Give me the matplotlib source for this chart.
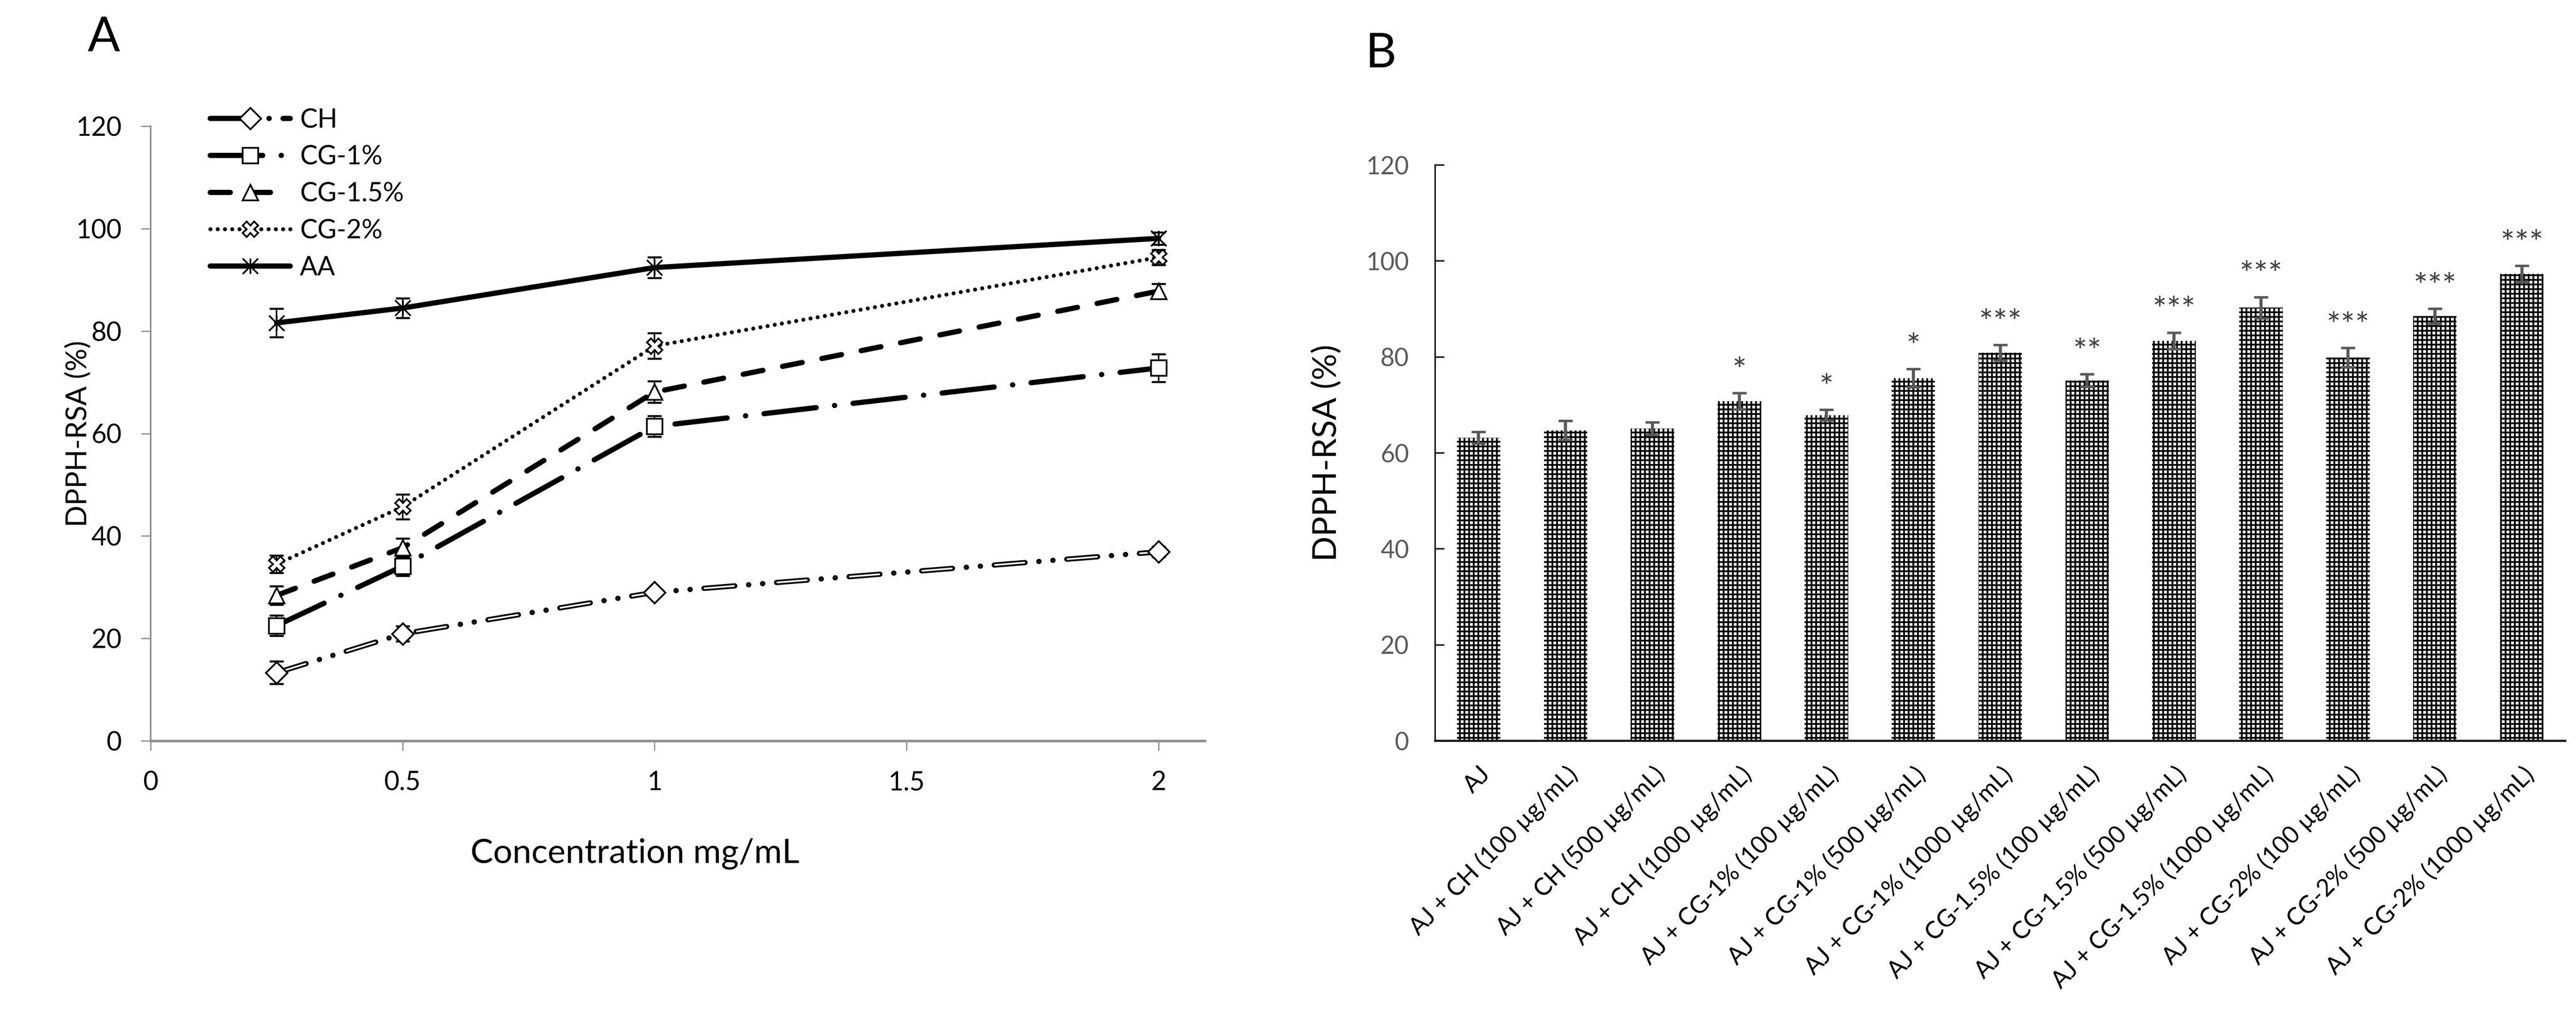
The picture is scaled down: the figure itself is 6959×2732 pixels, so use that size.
import matplotlib
matplotlib.use("Agg")
import matplotlib.pyplot as plt
from matplotlib.path import Path

plt.rcParams['font.family'] = ['Lato', 'DejaVu Sans']
plt.rcParams['lines.scale_dashes'] = False
plt.rcParams['hatch.linewidth'] = 1.15

# ---- panel A data ----
conc = [0.25, 0.5, 1, 2]
ch = [13.3, 20.9, 29.0, 36.9]
ch_err = [2.2, 1.5, 0.8, 1.0]
cg1 = [22.5, 34.1, 61.4, 72.8]
cg1_err = [2.0, 1.9, 2.0, 2.7]
cg15 = [28.4, 37.7, 68.1, 87.8]
cg15_err = [1.8, 1.8, 2.1, 1.4]
cg2 = [34.5, 45.7, 77.1, 94.4]
cg2_err = [1.7, 2.4, 2.5, 1.5]
aa = [81.6, 84.5, 92.4, 98.1]
aa_err = [2.8, 1.9, 2.0, 1.2]

# ---- panel B data ----
groups = ['AJ', 'AJ + CH (100 µg/mL)', 'AJ + CH (500 µg/mL)', 'AJ + CH (1000 µg/mL)',
          'AJ + CG-1% (100 µg/mL)', 'AJ + CG-1% (500 µg/mL)', 'AJ + CG-1% (1000 µg/mL)',
          'AJ + CG-1.5% (100 µg/mL)', 'AJ + CG-1.5% (500 µg/mL)', 'AJ + CG-1.5% (1000 µg/mL)',
          'AJ + CG-2% (100 µg/mL)', 'AJ + CG-2% (500 µg/mL)', 'AJ + CG-2% (1000 µg/mL)']
rsa = [63.2, 64.7, 65.1, 70.8, 67.9, 75.6, 80.9, 75.1, 83.4, 90.3, 79.9, 88.5, 97.3]
rsa_err = [1.2, 2.0, 1.3, 1.7, 1.1, 1.9, 1.6, 1.3, 1.7, 2.2, 2.0, 1.6, 1.7]
sig = ['', '', '', '*', '*', '*', '***', '**', '***', '***', '***', '***', '***']

W, H = 6959, 2732
fig = plt.figure(figsize=(W / 300, H / 300), dpi=300)

# asterisk-like marker used by Excel ("star")
star_path = Path([(-1, -1), (1, 1), (-1, 1), (1, -1), (0, -1), (0, 1)],
                 [Path.MOVETO, Path.LINETO, Path.MOVETO, Path.LINETO, Path.MOVETO, Path.LINETO])

# ================= panel A =================
axA = fig.add_axes([407 / W, 1 - 2002 / H, (3255 - 407) / W, (2002 - 341) / H])
gray = '#8c8c8c'
lw = 3.4
series = [
    ('CH', ch, ch_err, 'D', (20, 9, 0.1, 9, 0.1, 9)),
    ('CG-1%', cg1, cg1_err, 's', (34, 12, 0.1, 12)),
    ('CG-1.5%', cg15, cg15_err, '^', (13, 13)),
    ('CG-2%', cg2, cg2_err, 'X', (0.01, 4.7)),
    ('AA', aa, aa_err, star_path, None),
]
handles = []
for name, y, e, mk, dash in series:
    axA.errorbar(conc, y, yerr=e, fmt='none', ecolor='black', elinewidth=1.0,
                 capsize=4.5, capthick=1.3, zorder=2)
    kw = dict(color='black', lw=lw if name != 'CG-2%' else 2.6,
              solid_capstyle='round', dash_capstyle='round', zorder=3)
    if dash is not None:
        kw['dashes'] = dash
    ln, = axA.plot(conc, y, marker=mk, markersize=10, markerfacecolor='white',
                   markeredgecolor='black', markeredgewidth=1.1, label=name, **kw)
    if name == 'CH':
        # double-line look
        axA.plot(conc, y, color='white', lw=1.1, dashes=dash, dash_capstyle='butt', zorder=3.5)
        axA.plot(conc, y, ls='none', marker=mk, markersize=10, markerfacecolor='white',
                 markeredgecolor='black', markeredgewidth=1.1, zorder=4)
    handles.append(ln)

axA.set_xlim(0, 2.092)
axA.set_ylim(0, 120)
axA.set_xticks([0, 0.5, 1, 1.5, 2])
axA.set_xticklabels(['0', '0.5', '1', '1.5', '2'])
axA.set_yticks(range(0, 121, 20))
for s in ['top', 'right']:
    axA.spines[s].set_visible(False)
axA.spines['left'].set_color(gray)
axA.spines['left'].set_linewidth(1.0)
axA.spines['bottom'].set_color(gray)
axA.spines['bottom'].set_linewidth(1.6)
axA.tick_params(axis='both', direction='out', length=6.3, width=0.8, color=gray,
                labelsize=17, labelcolor='black')
axA.tick_params(axis='y', pad=12.5)
axA.tick_params(axis='x', pad=13)

leg = axA.legend(handles=handles, loc='upper left', bbox_to_anchor=(568 / W, 1 - 292 / H),
                 bbox_transform=fig.transFigure, frameon=False, fontsize=17,
                 handlelength=3.05, handletextpad=0.37, labelspacing=0.49,
                 borderpad=0, borderaxespad=0)

fig.text(212 / W, 1 - 1172 / H, 'DPPH-RSA (%)', rotation=90, ha='center', va='center', fontsize=18.5)
fig.text(1715 / W, 1 - 2308 / H, 'Concentration mg/mL', ha='center', va='center', fontsize=22)
fig.text(280 / W, 1 - 138 / H, 'A', ha='center', va='baseline', fontsize=31)

# ================= panel B =================
axB = fig.add_axes([3877 / W, 1 - 2002 / H, (6930 - 3877) / W, (2002 - 446) / H])
xpos = list(range(len(groups)))
axB.bar(xpos, rsa, width=0.5, color='white', edgecolor='black', linewidth=0,
        hatch='++++', zorder=2)
axB.errorbar(xpos, rsa, yerr=rsa_err, fmt='none', ecolor='#595959', elinewidth=2.0,
             capsize=4.6, capthick=1.6, zorder=3)
for x, v, e, s in zip(xpos, rsa, rsa_err, sig):
    if s:
        axB.text(x, v + e + 2.4, s, ha='center', va='baseline', fontsize=22, color='#404040')

axB.set_xlim(-0.5, len(groups) - 0.5)
axB.set_ylim(0, 120)
axB.set_yticks(range(0, 121, 20))
axB.set_xticks(xpos)
axB.set_xticklabels(groups, rotation=45, ha='right', va='top', rotation_mode='anchor')
for s in ['top', 'right']:
    axB.spines[s].set_visible(False)
axB.spines['left'].set_color('#1a1a1a')
axB.spines['left'].set_linewidth(1.0)
axB.spines['bottom'].set_color('#1a1a1a')
axB.spines['bottom'].set_linewidth(1.4)
axB.tick_params(axis='y', direction='in', length=6, width=1.0, color='#1a1a1a',
                labelsize=16, labelcolor='#595959', pad=17)
axB.tick_params(axis='x', length=0, labelsize=15.7, labelcolor='black', pad=14)

fig.text(3585 / W, 1 - 1224 / H, 'DPPH-RSA (%)', rotation=90, ha='center', va='center', fontsize=21.5)
fig.text(3730 / W, 1 - 182 / H, 'B', ha='center', va='baseline', fontsize=31)

fig.savefig('out.png', dpi=300)
